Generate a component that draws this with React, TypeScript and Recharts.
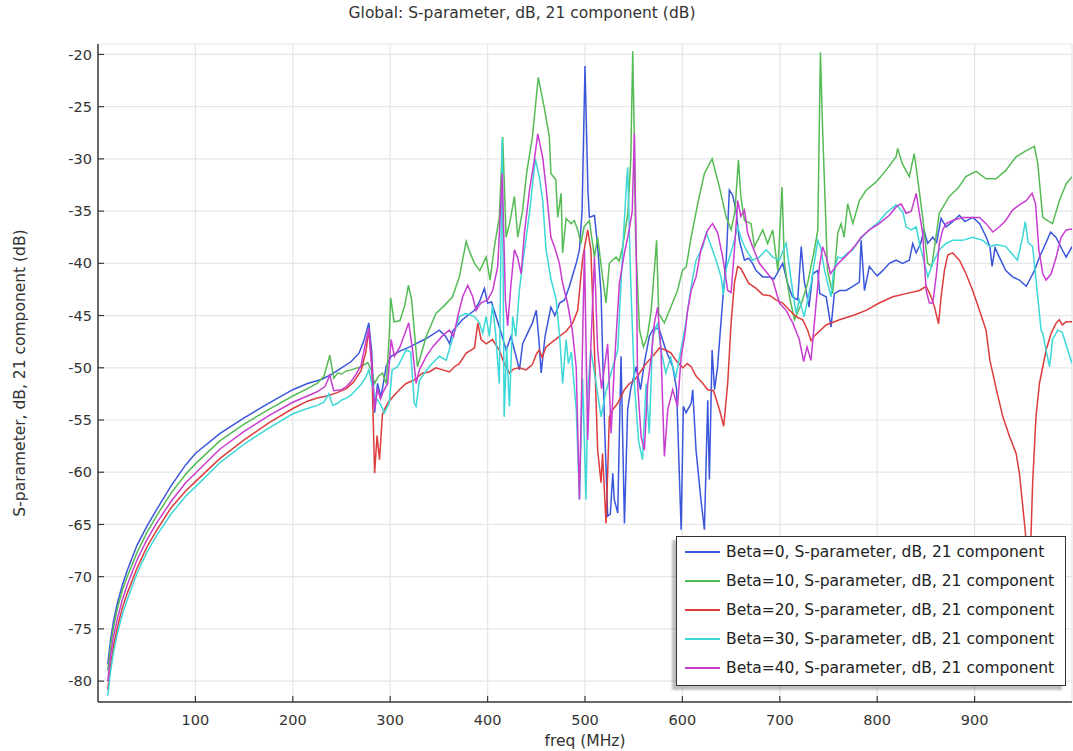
import React from "react";
import { LineChart, Line, XAxis, YAxis, CartesianGrid, Legend } from "recharts";

const FONT = '"DejaVu Sans", sans-serif';

const freqTicks = [100, 200, 300, 400, 500, 600, 700, 800, 900];
const dbTicks = [-80, -75, -70, -65, -60, -55, -50, -45, -40, -35, -30, -25, -20];

// [freq (MHz), S21 (dB)]
const beta0: [number, number][] = [
  [10, -78.4], [13, -76], [16, -74.2], [20, -72.5], [25, -70.8], [30, -69.4], [40, -67], [50, -65.2],
  [60, -63.6], [75, -61.3], [90, -59.3], [100, -58.2], [125, -56.3], [150, -54.8], [175, -53.4],
  [200, -52.1], [215, -51.5], [230, -51.1], [240, -50.6], [250, -50], [260, -49.4], [268, -48.6],
  [273, -47.4], [278, -45.7], [281, -48.5], [284, -54.3], [287, -51.5], [290.6, -52.8], [295.8, -49.9],
  [301, -48.9], [310, -48.4], [320, -48], [337, -47.2], [350.5, -46.4], [357, -47], [361, -47.7],
  [364, -46.5], [374, -45.4], [386.5, -44.5], [391.6, -43.7], [396.7, -42.4], [400, -43.8], [404, -43.7],
  [414, -46.7], [419, -48.3], [424, -47], [427.5, -48.3], [432.7, -50.2], [436, -47.7], [446, -45.7],
  [450, -44.5], [453, -47.7], [455, -50.5], [459, -47], [465, -44.2], [469, -45], [474, -43.8],
  [479, -43.5], [484, -42.2], [491, -40], [494.3, -38.7], [497, -35], [500, -21.1], [503, -33],
  [504.5, -35.6], [509.7, -35.4], [513, -38.4], [516.5, -42.9], [518, -48.3], [520, -55.3],
  [523.3, -64.2], [526, -64], [528.5, -60.1], [530, -62.6], [533.6, -63.9], [537, -48.9], [540.5, -64.9],
  [543.8, -54], [547, -52], [552.5, -49.9], [557, -52.1], [561, -49.5], [566, -47], [571.3, -46.1],
  [576.5, -46.4], [583, -48.3], [590, -49.9], [594, -52], [598.7, -65.5], [601, -53.7], [603.8, -54.3],
  [609, -53.4], [610.6, -52.1], [614, -57.9], [619, -62.6], [622.6, -65.5], [626, -53.1], [627.7, -60.7],
  [630.5, -48.3], [633, -52.1], [636, -50], [641.4, -43.5], [645, -39.7], [648.2, -33], [651.6, -33.5],
  [655, -34.9], [658.5, -37.8], [663.7, -39.7], [668, -39.5], [672, -40], [675.7, -40.7], [682.5, -41.3],
  [690, -41.3], [694, -41.5], [703, -40], [708, -41.9], [713, -43.2], [718.4, -43.5], [722, -38.4],
  [725, -41.6], [730, -44.2], [733.8, -41], [739, -40.7], [741, -42.9], [747.6, -43.2], [752.6, -46.1],
  [756, -42.9], [761.3, -42.6], [768, -42.6], [775, -42.2], [781.7, -41.8], [783.5, -37.8], [786.9, -42.6],
  [792, -40.3], [795.4, -40.7], [800, -41.2], [805.6, -40.7], [812.5, -40], [819.4, -39.7], [826, -40],
  [833, -39.7], [836.5, -38.1], [840, -39], [844.6, -38.1], [848, -36.8], [851.8, -38.1], [857, -37.5],
  [861, -38], [865.6, -35.7], [870.7, -36.5], [877.5, -36], [884.4, -35.4], [890, -36], [898.3, -35.6],
  [905.2, -36.2], [912, -37.5], [915.7, -38.4], [918, -40.3], [921, -38.5], [925.4, -39.4], [932, -40.7],
  [939, -41.3], [946, -41.6], [953, -42.2], [957, -41.5], [961.4, -40.7], [966.6, -39.4], [973, -38.1],
  [978, -37], [983.5, -37.5], [990, -38.7], [994, -39.4], [1000, -38.4],
];

const beta10: [number, number][] = [
  [10, -79], [13, -76.6], [16, -74.8], [20, -73], [25, -71.3], [30, -70], [40, -67.7], [50, -65.8],
  [60, -64.2], [75, -62], [90, -60.2], [100, -59.2], [125, -57], [150, -55.4], [175, -54], [200, -52.7],
  [215, -52], [225, -51.5], [232, -50.8], [238, -48.8], [242, -51], [246, -50.5], [250, -50.6],
  [255, -50.3], [260, -50.2], [270, -49.9], [277, -49.5], [281, -50.3], [284, -51.5], [288, -50.8],
  [292, -50.5], [296, -51.5], [299, -47], [300.5, -43.3], [304, -45.6], [310, -45.5], [315, -44],
  [318.7, -42.1], [322, -43.5], [328, -49.9], [337, -47], [347, -44.8], [356, -44], [364, -43.2],
  [371, -41.3], [378, -37.9], [382, -39], [386.5, -40], [392, -40.7], [398.5, -39.4], [402.5, -41.6],
  [407, -38.4], [412, -35.6], [415.5, -27.9], [419, -37.5], [423, -36], [427.5, -33.6], [431, -37.5],
  [436, -34.9], [440, -31.4], [446, -27.9], [452, -22.2], [458, -25], [463.4, -27.9], [465, -31.4],
  [470, -32], [472, -35.6], [475.5, -33.3], [477, -39], [480.6, -35.7], [485.7, -36.2], [489, -35.9],
  [492.5, -36.8], [496, -38.1], [499, -36.5], [504.5, -35.9], [509.7, -39.4], [513, -37.5], [518, -41.3],
  [521.6, -43.8], [525, -40], [528, -39.7], [532, -39.4], [535, -39.8], [538.7, -38.4], [544, -35.2],
  [547, -30], [549, -19.7], [550.5, -27.3], [552, -38], [556, -46.4], [560, -48], [564, -47],
  [568, -44.5], [573.5, -37.8], [575.7, -44.8], [581.5, -45.7], [588, -44.2], [595, -42.6], [600, -40.7],
  [604, -40.3], [609, -37.5], [615.7, -34.3], [622.6, -31.4], [630.5, -30], [638, -32.7], [645, -35.6],
  [650, -36.8], [654, -35], [657.5, -30.1], [660, -33.6], [663.7, -35.9], [670.5, -36.2], [674, -38.4],
  [682.5, -36.8], [687.5, -38.1], [692.7, -36.8], [698, -40.7], [702.3, -32.7], [704.7, -40], [710, -43.2],
  [715, -45.4], [722, -43.9], [728.6, -41.9], [735.5, -38.7], [739, -36.8], [741.7, -19.8], [744, -27.3],
  [749, -40.7], [754.3, -42.9], [759.5, -37.1], [763, -36.2], [766, -37.5], [769.7, -34.3], [775, -36.2],
  [781.7, -34], [788.6, -33], [799, -32.2], [809, -31.1], [819.4, -29.8], [821, -29], [826, -30.5],
  [833, -31.7], [838, -29.5], [841, -31.5], [846.7, -35.6], [851.8, -40], [856, -40.3], [863.8, -35.2],
  [874, -33.6], [883, -32.8], [891, -31.7], [901.5, -31.2], [911.8, -31.9], [922, -31.9], [932, -31.1],
  [942.6, -29.8], [953, -29.2], [961.4, -28.8], [964.8, -30.4], [970, -35.6], [975, -35.9], [980, -36.2],
  [987, -34], [994, -32.4], [1000, -31.7],
];

const beta20: [number, number][] = [
  [10, -80.8], [13, -78.4], [16, -76.6], [20, -74.8], [25, -73], [30, -71.6], [40, -69.2], [50, -67.2],
  [60, -65.6], [75, -63.4], [90, -61.8], [100, -60.9], [125, -58.7], [150, -56.9], [175, -55.3],
  [200, -53.9], [215, -53.2], [225, -52.9], [235, -52.7], [245, -52.4], [255, -52], [262, -51.4],
  [270, -50.3], [275, -48.5], [278, -46.4], [281, -49.5], [284, -60.1], [286.5, -56.5], [289, -58.8],
  [292, -54.5], [294, -54], [298, -53.3], [302.6, -52.8], [309.4, -52.1], [316.3, -51.5], [324, -51.2],
  [333.4, -50.5], [340, -50.4], [347, -50], [354, -50.2], [360.8, -50.4], [366, -49.9], [371, -49.6],
  [378, -48.6], [383, -48.3], [386.5, -48.1], [390, -45.7], [393.3, -47.3], [398.5, -47.7], [405, -47.3],
  [412, -48.3], [417, -49.6], [422.4, -50.5], [427, -50.1], [432.6, -50], [439.5, -50.2], [446, -49.7],
  [450, -48.7], [453, -48.3], [456, -49], [460, -48], [466.8, -47.5], [473.7, -47], [480.6, -46.5],
  [487.4, -45.7], [492.5, -44.5], [497.6, -39.5], [502.8, -36.8], [506, -38.7], [509.7, -48.3],
  [513, -57.9], [516.5, -61], [518, -58.2], [521.6, -64.9], [523.3, -60], [525, -54.7], [528.5, -54],
  [533.6, -53.4], [540.5, -52.1], [545.6, -51.5], [550.7, -51.2], [556, -50.5], [562.7, -49.6],
  [569.5, -48.9], [576.5, -48.1], [583, -48.3], [588.4, -48.6], [593.5, -49.3], [600.4, -50], [605, -49.6],
  [609, -49.9], [614, -50.8], [621, -51.5], [626, -52.1], [632, -52.2], [638, -54], [642.4, -55.6],
  [646.5, -51.5], [650, -45.7], [653.4, -41.9], [656.8, -40.3], [660, -40.5], [668, -41.9], [675.7, -42.4],
  [682.5, -43], [690, -43.1], [696, -43.5], [703, -43.8], [710, -44.5], [716.7, -45.1], [723.5, -45.4],
  [728.6, -46.4], [732, -47.4], [736, -46.9], [747.6, -45.9], [761.3, -45.4], [775, -45], [788.6, -44.5],
  [802, -43.8], [816, -43.2], [829.7, -42.9], [843.4, -42.6], [850.3, -42.2], [855.3, -43.2],
  [858.9, -44.2], [863, -45.8], [865.6, -43.2], [869, -40.7], [872.4, -39.2], [877.5, -39], [884.4, -39.7],
  [891.2, -41], [898, -42.6], [905, -44.5], [911.8, -46.4], [915.7, -49.3], [922.4, -52.1], [929, -54.7],
  [936, -56.6], [942.6, -58.2], [946, -60.1], [949.5, -63.3], [952.2, -65.8], [955, -72], [958, -65.8],
  [959.6, -61], [963, -54.7], [966.6, -51.5], [970, -49.9], [973.4, -48.3], [978.6, -46.7], [983.8, -45.7],
  [987, -45.4], [990, -45.9], [994, -45.6], [1000, -45.6],
];

const beta30: [number, number][] = [
  [10, -81.4], [13, -79], [16, -77.2], [20, -75.4], [25, -73.6], [30, -72.2], [40, -69.7], [50, -67.7],
  [60, -66.1], [75, -64], [90, -62.3], [100, -61.4], [125, -59.1], [150, -57.3], [175, -55.8],
  [200, -54.4], [215, -53.9], [225, -53.6], [232, -53.3], [237, -52.5], [241, -53.6], [246, -53.4],
  [250, -53.1], [255, -52.9], [260, -52.6], [270, -51.6], [275, -50.9], [278, -50.2], [281, -51.5],
  [285, -52.8], [290, -53.5], [294, -54.3], [299, -53.4], [302, -50.2], [307.7, -49.9], [316.3, -48.3],
  [321, -48.5], [324.8, -53.4], [326.6, -53.7], [330, -51.2], [340, -49.9], [350.5, -48.9], [357.4, -49.3],
  [362.5, -47.7], [371, -45.1], [378, -44.8], [386.5, -45.1], [391.6, -45.7], [395, -46.7], [398.5, -45.1],
  [401.8, -47], [405, -44], [408, -46.5], [412, -51.5], [415, -28], [417, -54.7], [419.5, -48],
  [422.4, -53.7], [425.8, -45.1], [429, -47], [432.6, -42.6], [436, -40], [443, -35.2], [449, -30],
  [453, -31.7], [456.6, -34], [460, -38.7], [465, -41.5], [470.4, -43.5], [474, -47], [477, -51.5],
  [480.6, -47.3], [483, -49.6], [486, -48.5], [491, -54], [494.3, -62.6], [497.5, -51], [501, -62.6],
  [503, -52], [506, -48.3], [511.4, -51.5], [516.5, -54.7], [521, -52.5], [528.5, -49.9], [533.6, -48.3],
  [538.7, -38.7], [542.2, -33], [543.8, -30.8], [547, -41.9], [550.7, -51.5], [555, -57], [559, -58.8],
  [562.7, -51.5], [566, -56.3], [569.5, -47], [574.6, -45.7], [578, -48.3], [583, -50.5], [588, -49],
  [593, -51], [598, -48.5], [603, -46], [609, -42.2], [614, -39.7], [621, -38.4], [624.4, -37.1],
  [629, -38.2], [634.6, -39.7], [639.7, -41.3], [642, -43], [645, -40.5], [651.6, -38.4], [656.8, -36.5],
  [661, -37.8], [665.4, -38.7], [672, -39.7], [679, -39.4], [686, -38.7], [692.7, -39.4], [699.6, -39.7],
  [706.5, -38.1], [710, -40.5], [713, -42.5], [716.7, -44.8], [720, -43.5], [725, -45.1], [732, -42],
  [739, -37.8], [742, -38.5], [746, -40.7], [752.6, -43.2], [755, -41], [759.5, -39.4], [764, -39.5],
  [769.7, -39], [775, -38.7], [781.7, -37.8], [788.6, -37.1], [795.4, -36.5], [802, -36], [809, -35.2],
  [819.4, -34.4], [826.3, -35.1], [829.7, -36.5], [835, -36.8], [840, -36.5], [843.4, -38.1], [848.6, -40],
  [852, -41.3], [857, -40], [863.8, -38.7], [870.7, -38.1], [877.5, -37.8], [887.8, -37.8], [898, -37.5],
  [908.5, -37.8], [915.7, -38.4], [922, -38.2], [932, -38.4], [944, -39.7], [949.3, -37.5], [952, -36],
  [955, -38], [959.6, -38.4], [964.8, -43.2], [968.3, -46.4], [970, -46.7], [973.4, -48.3], [977, -49.9],
  [980, -47.3], [985.4, -46.4], [990, -46.6], [995.6, -48.3], [1000, -49.6],
];

const beta40: [number, number][] = [
  [10, -80], [13, -77.5], [16, -75.7], [20, -74], [25, -72.2], [30, -70.8], [40, -68.4], [50, -66.5],
  [60, -64.9], [75, -62.8], [90, -61], [100, -60.1], [125, -57.8], [150, -56.1], [175, -54.6],
  [200, -53.3], [215, -52.7], [225, -52.3], [233, -51.8], [238, -50.7], [242, -52.2], [250, -52.1],
  [255, -51.8], [260, -51.3], [265, -50.6], [270, -49.8], [275, -47.5], [278, -46.2], [281, -50],
  [284, -54], [287, -52], [290, -53], [292.3, -52.4], [297.4, -51.5], [301, -47.3], [304.3, -48.9],
  [310, -48], [316.3, -46.4], [319, -45.7], [323, -48.3], [326.6, -51.5], [330, -50.2], [337, -48.9],
  [343.6, -48], [354, -46.9], [360.8, -46.4], [365, -47], [369.3, -45.1], [374.4, -43.2], [379.6, -42.1],
  [384.7, -43.2], [388.2, -44.5], [393, -43.8], [400, -43.5], [405.2, -42.6], [410.4, -40.3], [415, -31.4],
  [418.3, -43.5], [420.6, -46], [424, -42], [427.5, -38.7], [431, -39.5], [434.4, -41], [437.8, -37.1],
  [443, -33], [448, -30.1], [451.5, -27.6], [456.5, -29.8], [460, -32.7], [465, -37.5], [469, -38.5],
  [473.7, -40], [477, -41.9], [482, -43.8], [487, -46.4], [491, -50], [494.3, -62.6], [497, -50],
  [499.4, -38.7], [502.8, -56.9], [506, -48], [509.7, -39.4], [513, -48.3], [517, -52], [523.3, -47.7],
  [526.8, -56.3], [530, -50], [535.3, -41.9], [540.5, -39], [545, -37], [548.5, -35], [550.7, -27.6],
  [552.5, -38], [554, -51.5], [557.6, -56.6], [561, -57.9], [564.4, -51.5], [568, -49], [571.3, -45.7],
  [574.6, -44.2], [578, -48.3], [581.5, -58.5], [585, -54], [590, -52.1], [595, -53.7], [598.7, -48.9],
  [602.3, -47], [605.4, -44.5], [609, -42.6], [614, -41.3], [619, -38.7], [626, -36.8], [631, -36.2],
  [636.3, -37.1], [641.4, -39.4], [646.5, -42.6], [650, -42.8], [653.4, -38.7], [656.8, -34], [660, -35.5],
  [663.7, -34.9], [667, -37.1], [672, -38.4], [679, -40], [686, -40.8], [692.7, -41.6], [699.6, -43.8],
  [706.5, -44.5], [713.3, -45.7], [720, -47.3], [724.5, -49.4], [728, -48], [732, -49.3], [735.5, -45.7],
  [740.7, -40.3], [744, -38.4], [748, -39.5], [752, -41], [756, -40.5], [760, -40], [768, -39.3],
  [776.6, -38.4], [783.5, -37.5], [792, -36.8], [802, -36.2], [812.5, -35.4], [819.4, -34.6], [824.5, -34.3],
  [829.7, -35.2], [835, -35], [840, -33.3], [843, -35], [846.7, -37.1], [850.2, -42.6], [853.6, -43.8],
  [857, -43.8], [860.5, -41.3], [863.8, -38.1], [867.2, -36.8], [870.7, -36.2], [877.5, -35.9],
  [887.8, -35.6], [898, -35.6], [905, -35.6], [911.8, -36.2], [918.7, -37], [925.5, -36.5], [932, -35.9],
  [939, -34.9], [946, -34.4], [953, -34], [959, -33.3], [962.6, -34.3], [966, -38.7], [970, -41],
  [973.4, -41.6], [978.6, -41], [983.8, -39.4], [988.8, -37.5], [994, -36.8], [1000, -36.7],
];

const series = [
  { name: "Beta=0, S-parameter, dB, 21 component", color: "#3a57dc", points: beta0 },
  { name: "Beta=10, S-parameter, dB, 21 component", color: "#55bb55", points: beta10 },
  { name: "Beta=20, S-parameter, dB, 21 component", color: "#dd3c3c", points: beta20 },
  { name: "Beta=30, S-parameter, dB, 21 component", color: "#3cd8d8", points: beta30 },
  { name: "Beta=40, S-parameter, dB, 21 component", color: "#c83cd0", points: beta40 },
];

const toRows = (pts: [number, number][]) => pts.map(([f, v]) => ({ f, v }));

const axisLine = { stroke: "#3a3a3a", strokeWidth: 1.5 };
const tickLine = { stroke: "#3a3a3a", strokeWidth: 1.2 };
const tickStyle = { fontSize: 14.5, fill: "#333", fontFamily: FONT };
const labelStyle = { fontSize: 15.5, fill: "#333", fontFamily: FONT };
const blank = () => "";

function LegendBox() {
  return (
    <div
      style={{
        position: "relative",
        width: 390,
        height: 150,
        boxSizing: "border-box",
        background: "#fff",
        border: "1px solid #333",
        boxShadow: "-4px 4px 2px rgba(0,0,0,0.25)",
        fontFamily: FONT,
        fontSize: 15.5,
        color: "#222",
      }}
    >
      {series.map((s, i) => (
        <div
          key={s.name}
          style={{
            position: "absolute",
            left: 8,
            top: 5 + i * 29,
            height: 20,
            display: "flex",
            alignItems: "center",
            whiteSpace: "nowrap",
          }}
        >
          <svg width={35} height={4}>
            <line x1={0} x2={35} y1={2} y2={2} stroke={s.color} strokeWidth={2} />
          </svg>
          <span style={{ marginLeft: 6 }}>{s.name}</span>
        </div>
      ))}
    </div>
  );
}

export default function App() {
  return (
    <div style={{ position: "absolute", left: 0, top: 0, width: 1073, height: 751, background: "#fff" }}>
      <div
        style={{
          position: "absolute",
          left: 0,
          top: 4,
          width: 1044,
          textAlign: "center",
          fontFamily: FONT,
          fontSize: 15.5,
          color: "#333",
        }}
      >
        Global: S-parameter, dB, 21 component (dB)
      </div>
      <LineChart width={1073} height={751} margin={{ top: 44, right: 1, bottom: 0, left: 0 }}>
        <CartesianGrid xAxisId="bottom" yAxisId="left" stroke="#e6e6e6" strokeWidth={1.2} />
        <XAxis
          xAxisId="bottom"
          dataKey="f"
          type="number"
          domain={[0, 1000]}
          ticks={freqTicks}
          allowDataOverflow
          height={49}
          tickSize={-6}
          tickMargin={19}
          axisLine={axisLine}
          tickLine={tickLine}
          tick={tickStyle}
          label={{ value: "freq (MHz)", position: "insideBottom", offset: 5, style: labelStyle }}
        />
        <XAxis
          xAxisId="top"
          orientation="top"
          type="number"
          domain={[0, 1000]}
          ticks={freqTicks}
          height={0}
          tickSize={-6}
          tickFormatter={blank}
          axisLine={axisLine}
          tickLine={tickLine}
        />
        <YAxis
          yAxisId="left"
          type="number"
          domain={[-82, -19]}
          ticks={dbTicks}
          allowDataOverflow
          width={98}
          tickSize={-6}
          tickMargin={12}
          axisLine={axisLine}
          tickLine={tickLine}
          tick={tickStyle}
          label={{
            value: "S-parameter, dB, 21 component (dB)",
            angle: -90,
            position: "insideLeft",
            offset: 19,
            style: { ...labelStyle, textAnchor: "middle" },
          }}
        />
        <YAxis
          yAxisId="right"
          orientation="right"
          type="number"
          domain={[-82, -19]}
          ticks={dbTicks}
          width={0}
          tickSize={-6}
          tickFormatter={blank}
          axisLine={axisLine}
          tickLine={tickLine}
        />
        {series.map((s) => (
          <Line
            key={s.name}
            xAxisId="bottom"
            yAxisId="left"
            data={toRows(s.points)}
            dataKey="v"
            name={s.name}
            type="linear"
            stroke={s.color}
            strokeWidth={1.5}
            dot={false}
            activeDot={false}
            isAnimationActive={false}
          />
        ))}
        <Legend
          layout="vertical"
          align="center"
          verticalAlign="middle"
          content={() => <LegendBox />}
          wrapperStyle={{ left: 676, top: 536, width: 390, height: 150 }}
        />
      </LineChart>
    </div>
  );
}
